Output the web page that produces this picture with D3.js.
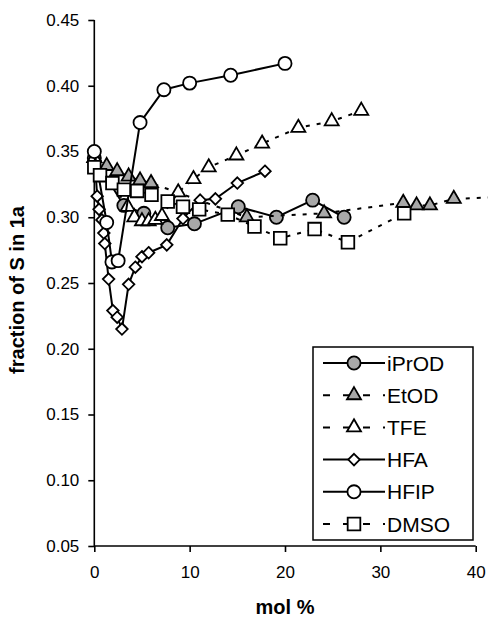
<!DOCTYPE html>
<html>
<head>
<meta charset="utf-8">
<script src="https://cdn.jsdelivr.net/npm/d3@7"></script>
<style>
  body { margin: 0; background: #fff; }
  svg { display: block; font-family: Arial, "Liberation Sans", sans-serif; }
  .axis path, .axis line { stroke: #000; stroke-width: 1.6; }
  .axis text { font-size: 17px; fill: #000; }
</style>
</head>
<body>
<svg id="chart" width="488" height="618"></svg>
<script>
// [mol %, fraction of S]
const iPrOD = [[0,0.345],[3.1,0.309],[5.2,0.303],[7.7,0.292],[10.5,0.295],[15.1,0.308],[19.1,0.300],[22.9,0.313],[26.2,0.300]]
const EtOD = [[0,0.345],[1.3,0.339],[2.4,0.335],[3.6,0.331],[4.8,0.328],[5.95,0.326],[16,0.300],[24.1,0.303],[32.4,0.311],[33.8,0.309],[35.2,0.309],[37.7,0.314],[45,0.316]]
const TFE = [[0,0.345],[3.5,0.308],[4.2,0.300],[5.0,0.297],[5.7,0.297],[6.4,0.298],[7.1,0.301],[8.8,0.319],[10.4,0.329],[12,0.338],[14.9,0.347],[17.6,0.356],[21.4,0.368],[24.9,0.373],[28,0.381]]
const HFA = [[0,0.350],[0.3,0.316],[0.5,0.306],[0.8,0.298],[1.0,0.288],[1.1,0.280],[1.5,0.253],[1.95,0.229],[2.4,0.224],[2.9,0.215],[3.6,0.249],[4.3,0.262],[5.0,0.270],[5.7,0.273],[7.6,0.279],[9.3,0.299],[11.1,0.313],[12.7,0.314],[15,0.326],[17.9,0.335]]
const HFIP = [[0,0.350],[1.3,0.296],[1.85,0.266],[2.5,0.267],[4.8,0.372],[7.3,0.397],[10,0.402],[14.3,0.408],[20,0.417]]
const DMSO = [[0,0.338],[0.6,0.332],[1.9,0.326],[3.1,0.321],[4.5,0.320],[6,0.317],[7.7,0.312],[9.3,0.308],[11,0.306],[14,0.302],[16.8,0.293],[19.5,0.284],[23.1,0.291],[26.6,0.281],[32.5,0.303]]

const xTicks = [0,10,20,30,40]
const yTicks = [0.05,0.10,0.15,0.20,0.25,0.30,0.35,0.40,0.45]

const series = [
  {name:'iPrOD', data:iPrOD, shape:'circle', fill:'#a8a8a8', dash:null},
  {name:'EtOD', data:EtOD, shape:'triangle', fill:'#a8a8a8', dash:'4,7'},
  {name:'TFE', data:TFE, shape:'triangle', fill:'#fff', dash:'4,7'},
  {name:'HFA', data:HFA, shape:'diamond', fill:'#fff', dash:null},
  {name:'HFIP', data:HFIP, shape:'circle', fill:'#fff', dash:null},
  {name:'DMSO', data:DMSO, shape:'square', fill:'#fff', dash:'4,7'}
]

const svg = d3.select('#chart')
const x = d3.scaleLinear().domain([0,40]).range([94.3,475.7])
const y = d3.scaleLinear().domain([0.05,0.45]).range([546,20])

const symSize = {circle:135, triangle:85, diamond:85, square:160}
const symType = {circle:d3.symbolCircle, triangle:d3.symbolTriangle, diamond:d3.symbolDiamond2, square:d3.symbolSquare}
function sym(shape){ return d3.symbol().type(symType[shape]).size(symSize[shape])() }

// axes
svg.append('g').attr('class','axis')
  .attr('transform','translate(0,546)')
  .call(d3.axisBottom(x).tickValues(xTicks).tickSize(6).tickPadding(14).tickFormat(d3.format('d')))
svg.append('g').attr('class','axis')
  .attr('transform','translate(94.3,0)')
  .call(d3.axisLeft(y).tickValues(yTicks).tickSize(6).tickPadding(9).tickFormat(d3.format('.2f')))
svg.selectAll('.axis .domain').attr('d', function(){
  return d3.select(this.parentNode).attr('transform').includes(',546') ? 'M94.3,0H475.7' : 'M0,20V546'
})

svg.append('text').attr('x',285).attr('y',614)
  .attr('text-anchor','middle').style('font-size','20px').style('font-weight','bold')
  .text('mol %')
svg.append('text').attr('transform','translate(24,290) rotate(-90)')
  .attr('text-anchor','middle').style('font-size','20px').style('font-weight','bold')
  .text('fraction of S in 1a')

const line = d3.line().x(d => x(d[0])).y(d => y(d[1]))

series.forEach(s => {
  const g = svg.append('g')
  g.append('path').attr('d', line(s.data))
    .attr('fill','none').attr('stroke','#000').attr('stroke-width',2)
    .attr('stroke-dasharray', s.dash)
  g.selectAll('path.m').data(s.data.filter(d => d[0] <= 40)).enter().append('path')
    .attr('class','m')
    .attr('d', sym(s.shape))
    .attr('transform', d => 'translate(' + x(d[0]) + ',' + y(d[1]) + ')')
    .attr('fill', s.fill).attr('stroke','#000').attr('stroke-width',1.8)
})

// legend
const lg = svg.append('g')
lg.append('rect').attr('x',313).attr('y',347).attr('width',160).attr('height',193)
  .attr('fill','#fff').attr('stroke','#000').attr('stroke-width',1.5)
series.forEach((s,i) => {
  const cy = 363 + i*32.2
  lg.append('line').attr('x1',323).attr('x2',385).attr('y1',cy).attr('y2',cy)
    .attr('stroke','#000').attr('stroke-width',2).attr('stroke-dasharray', s.dash ? '7,13' : null)
  lg.append('path').attr('d', sym(s.shape)).attr('transform','translate(354,' + cy + ')')
    .attr('fill', s.fill).attr('stroke','#000').attr('stroke-width',1.8)
  lg.append('text').attr('x',387).attr('y',cy).attr('dy','0.36em')
    .style('font-size','21px').text(s.name)
})
</script>
</body>
</html>
